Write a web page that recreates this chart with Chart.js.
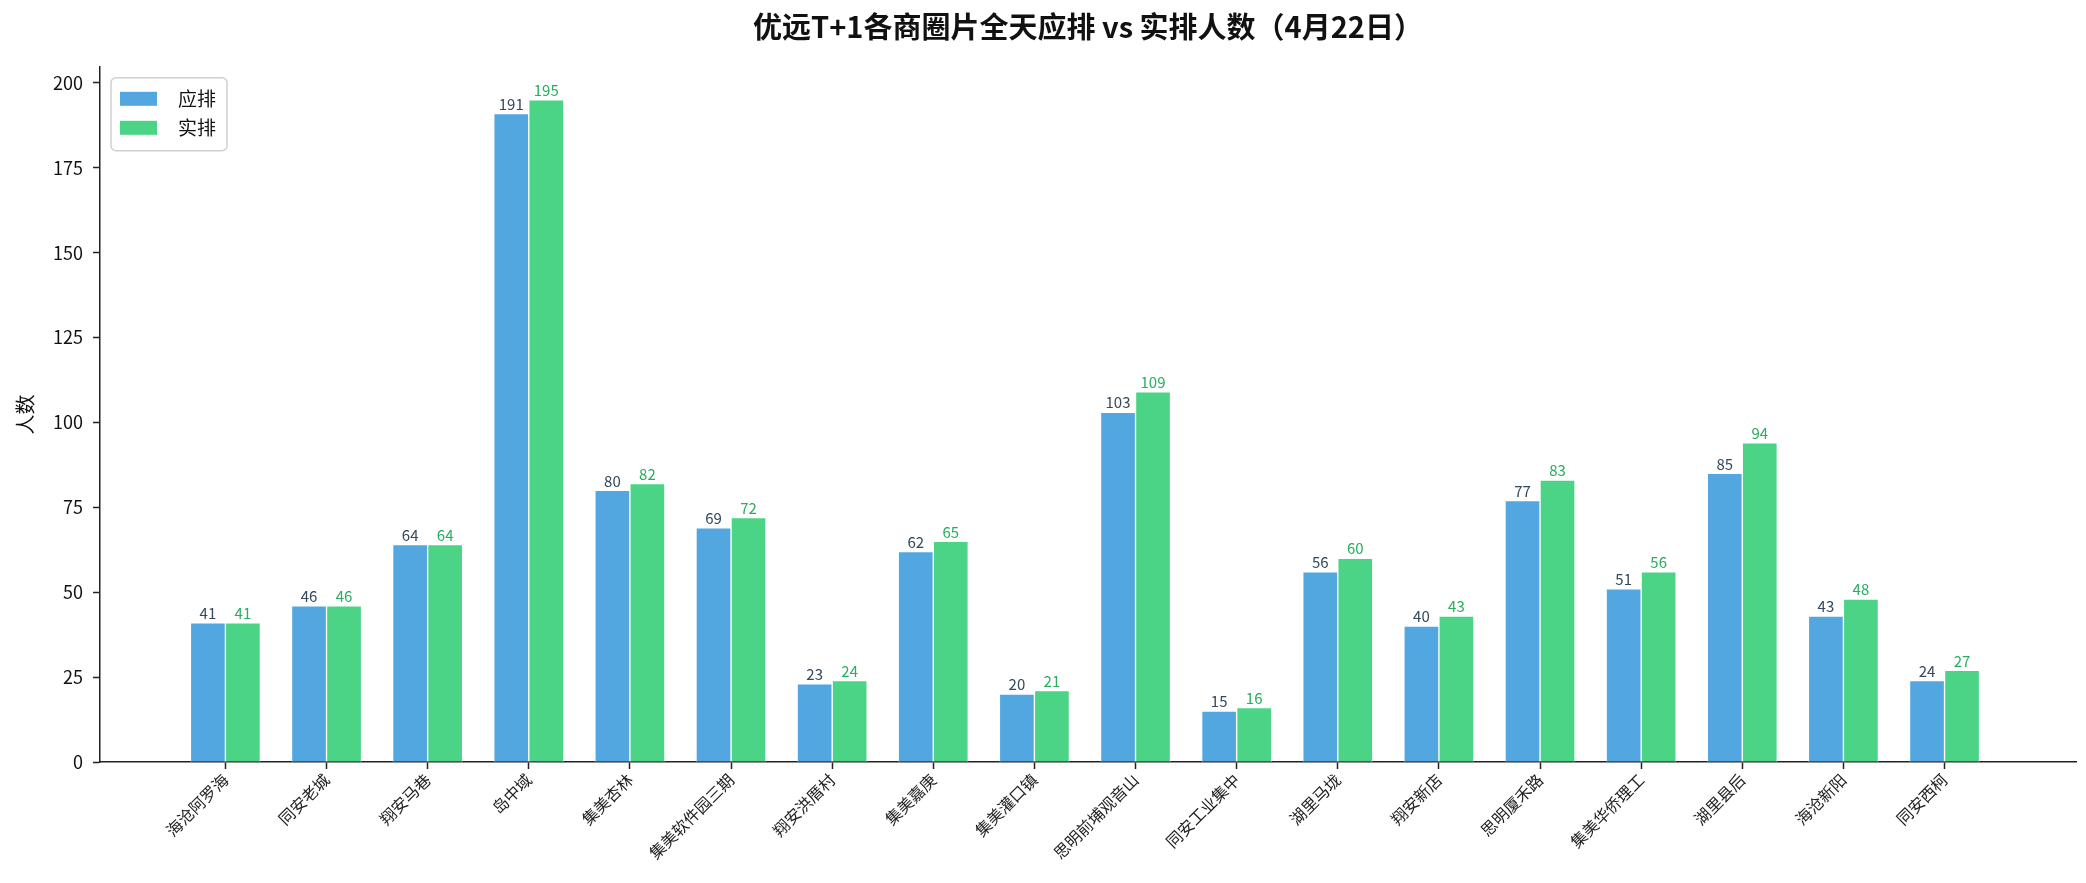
<!DOCTYPE html>
<html lang="zh-CN">
<head>
<meta charset="utf-8">
<title>优远T+1各商圈片全天应排 vs 实排人数（4月22日）</title>
<script src="https://cdn.jsdelivr.net/npm/chart.js@4.4.1/dist/chart.umd.min.js"></script>
<style>
    html, body { margin: 0; padding: 0; background: #fff; }
    #wrap { width: 2086px; height: 883px; position: relative; }
</style>
</head>
<body>
<div id="wrap"><canvas id="shiftChart"></canvas></div>
<script>
// 商圈
const categories = ['海沧阿罗海', '同安老城', '翔安马巷', '岛中域', '集美杏林', '集美软件园三期',
    '翔安洪厝村', '集美嘉庚', '集美灌口镇', '思明前埔观音山', '同安工业集中', '湖里马垅',
    '翔安新店', '思明厦禾路', '集美华侨理工', '湖里县后', '海沧新阳', '同安西柯'];
// 应排 / 实排 人数
const planned = [41, 46, 64, 191, 80, 69, 23, 62, 20, 103, 15, 56, 40, 77, 51, 85, 43, 24];
const actual = [41, 46, 64, 195, 82, 72, 24, 65, 21, 109, 16, 60, 43, 83, 56, 94, 48, 27];
// y轴刻度
const yTicks = [0, 25, 50, 75, 100, 125, 150, 175, 200];

const FONT = '"Noto Sans CJK SC", "Noto Sans", sans-serif';
const BLUE = '#53a7e0';
const GREEN = '#4cd486';
const AXIS = '#222222';

// 柱顶数值
const valueLabels = {
    id: 'valueLabels',
    afterDatasetsDraw(chart) {
        const ctx = chart.ctx;
        const colors = ['#34495e', '#27ae60'];
        ctx.save();
        ctx.font = '15px ' + FONT;
        ctx.textAlign = 'center';
        ctx.textBaseline = 'bottom';
        chart.data.datasets.forEach((ds, di) => {
            ctx.fillStyle = colors[di];
            chart.getDatasetMeta(di).data.forEach((bar, i) => {
                ctx.fillText(String(ds.data[i].y), bar.x, bar.y - 2);
            });
        });
        ctx.restore();
    }
};

// 图例（画在坐标区左上角，带圆角边框）
const insideLegend = {
    id: 'insideLegend',
    afterDraw(chart) {
        const ctx = chart.ctx;
        const area = chart.chartArea;
        const left = area.left + 11, top = area.top + 11;
        const w = 116, h = 73;
        ctx.save();
        ctx.fillStyle = 'rgba(255,255,255,0.8)';
        ctx.strokeStyle = '#d0d0d0';
        ctx.lineWidth = 1.5;
        ctx.beginPath();
        ctx.roundRect(left, top, w, h, 5);
        ctx.fill();
        ctx.stroke();
        ctx.font = '19px ' + FONT;
        ctx.textBaseline = 'middle';
        chart.data.datasets.forEach((ds, i) => {
            const cy = top + 21 + i * 29;
            ctx.fillStyle = ds.backgroundColor;
            ctx.fillRect(left + 9, cy - 7, 37, 14);
            ctx.fillStyle = '#111111';
            ctx.fillText(ds.label, left + 67, cy);
        });
        ctx.restore();
    }
};

const ctx = document.getElementById('shiftChart').getContext('2d');
const shiftChart = new Chart(ctx, {
    type: 'bar',
    data: {
        datasets: [
            {
                label: '应排',
                data: planned.map((v, i) => ({ x: i, y: v })),
                backgroundColor: BLUE,
                borderColor: '#ffffff',
                borderWidth: 1,
                barThickness: 35
            },
            {
                label: '实排',
                data: actual.map((v, i) => ({ x: i, y: v })),
                backgroundColor: GREEN,
                borderColor: '#ffffff',
                borderWidth: 1,
                barThickness: 35
            }
        ]
    },
    options: {
        responsive: true,
        maintainAspectRatio: false,
        animation: false,
        devicePixelRatio: 1,
        layout: { padding: { left: 10, right: 10, top: 0, bottom: 0 } },
        plugins: {
            title: {
                display: true,
                fullSize: false,
                text: '优远T+1各商圈片全天应排 vs 实排人数（4月22日）',
                color: '#111111',
                font: { family: FONT, size: 29, weight: 'bold' },
                padding: { top: 10, bottom: 22 }
            },
            legend: { display: false },
            tooltip: { enabled: false }
        },
        scales: {
            x: {
                type: 'linear',
                offset: false,
                min: -1.24,
                max: 18.3,
                afterBuildTicks: scale => {
                    scale.ticks = categories.map((c, i) => ({ value: i }));
                },
                afterFit: scale => { scale.height = 121; },
                ticks: {
                    autoSkip: false,
                    minRotation: 45,
                    maxRotation: 45,
                    padding: 1,
                    color: '#222222',
                    font: { family: FONT, size: 16 },
                    callback: value => categories[value]
                },
                grid: {
                    offset: false,
                    drawOnChartArea: false,
                    drawTicks: true,
                    tickLength: 7,
                    tickWidth: 1.5,
                    tickColor: AXIS
                },
                border: { display: true, color: AXIS, width: 1.5 }
            },
            y: {
                min: 0,
                max: 204.75,
                afterBuildTicks: scale => {
                    scale.ticks = yTicks.map(v => ({ value: v }));
                },
                afterFit: scale => { scale.width = 90; },
                title: {
                    display: true,
                    text: '人数',
                    color: '#111111',
                    font: { family: FONT, size: 20 },
                    padding: { top: 3, bottom: 0 }
                },
                ticks: {
                    padding: 10,
                    color: '#111111',
                    font: { family: FONT, size: 18 }
                },
                grid: {
                    drawOnChartArea: false,
                    drawTicks: true,
                    tickLength: 7,
                    tickWidth: 1.5,
                    tickColor: AXIS
                },
                border: { display: true, color: AXIS, width: 1.5 }
            }
        }
    },
    plugins: [valueLabels, insideLegend]
});
</script>
</body>
</html>
